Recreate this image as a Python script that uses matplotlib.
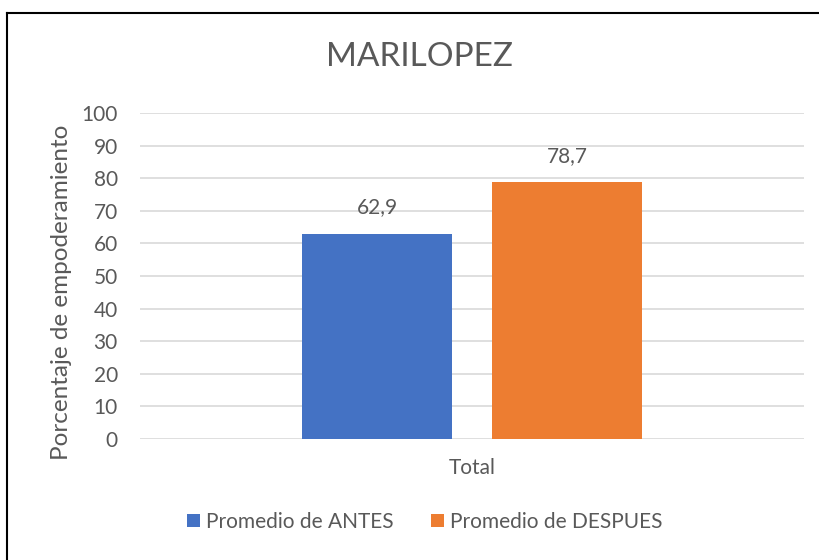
import matplotlib.pyplot as plt
from matplotlib.lines import Line2D

# data
series = ['Promedio de ANTES', 'Promedio de DESPUES']
values = [62.9, 78.7]
colors = ['#4472C4', '#ED7D31']
category = 'Total'
yticks = list(range(0, 101, 10))

plt.rcParams['font.family'] = ['Lato', 'DejaVu Sans']
txt = '#595959'

fig = plt.figure(figsize=(8.2, 5.6), dpi=100)
ax = fig.add_axes([140/820, 1 - 439/560, 664/820, 326/560])

offsets = [-0.143, 0.143]
for name, v, c, off in zip(series, values, colors, offsets):
    ax.bar(off, v, width=0.226, color=c, label=name, zorder=3)
    ax.annotate(f'{v:.1f}'.replace('.', ','), (off, v), xytext=(0, 12),
                textcoords='offset points', ha='center', va='bottom',
                fontsize=15, color=txt)

ax.set_xlim(-0.5, 0.5)
ax.set_ylim(0, 100)
ax.set_yticks(yticks)
ax.set_xticks([0])
ax.set_xticklabels([category])
ax.tick_params(length=0, labelsize=15, colors=txt)
ax.tick_params(axis='y', pad=16)
ax.tick_params(axis='x', pad=14)
ax.grid(axis='y', color='#D9D9D9', linewidth=1.2, zorder=0)
for s in ax.spines.values():
    s.set_visible(False)
ax.set_ylabel('Porcentaje de empoderamiento', fontsize=17.5, color=txt)
ax.yaxis.set_label_coords(-0.102, 0.45)

fig.text(420/820, 1 - 57/560, 'MARILOPEZ', ha='center', va='center',
         fontsize=24, color=txt)

fig.legend(loc='center', bbox_to_anchor=(425/820, 1 - 522/560), ncol=2,
           frameon=False, fontsize=15, labelcolor=txt, handlelength=0.6,
           handleheight=0.6, handletextpad=0.3, columnspacing=1.8)

# frame of the chart area (left and top edges visible)
fig.add_artist(Line2D([7/820, 7/820], [0, 1 - 13/560], color='black', lw=1.5,
                      transform=fig.transFigure))
fig.add_artist(Line2D([7/820, 1], [1 - 13/560, 1 - 13/560], color='black', lw=1.5,
                      transform=fig.transFigure))

fig.savefig('out.png', dpi=100)
